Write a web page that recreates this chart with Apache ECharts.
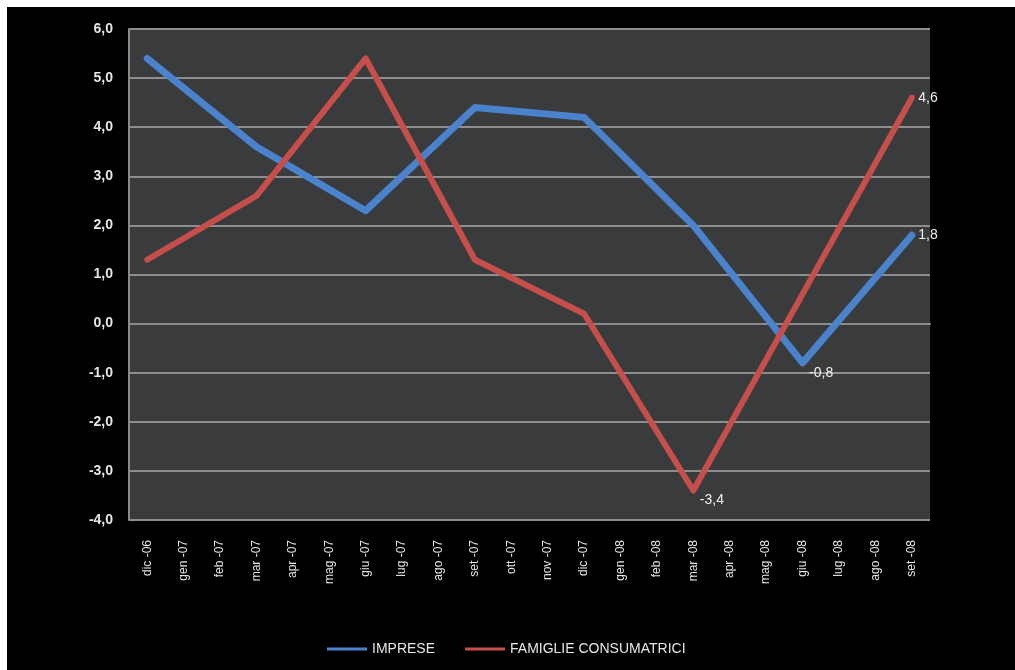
<!DOCTYPE html>
<html>
<head>
<meta charset="utf-8">
<script src="https://cdn.jsdelivr.net/npm/echarts@6/dist/echarts.min.js"></script>
<style>
    html, body { margin: 0; padding: 0; background: #fff; }
    .chart-box {
        position: absolute;
        left: 7px;
        top: 7px;
        width: 1008px;
        height: 663px;
        background: #000;
    }
</style>
</head>
<body>
<div class="chart-box" id="main"></div>
<script>
// categorie (mesi)
const months = [
    'dic -06', 'gen -07', 'feb -07', 'mar -07', 'apr -07', 'mag -07', 'giu -07',
    'lug -07', 'ago -07', 'set -07', 'ott -07', 'nov -07', 'dic -07', 'gen -08',
    'feb -08', 'mar -08', 'apr -08', 'mag -08', 'giu -08', 'lug -08', 'ago -08', 'set -08'
];

// dati trimestrali, mesi intermedi vuoti
const imprese = [
    5.4, null, null, 3.6, null, null, 2.3, null, null, 4.4, null, null,
    4.2, null, null, 2.0, null, null, -0.8, null, null, 1.8
];
const famiglie = [
    1.3, null, null, 2.6, null, null, 5.4, null, null, 1.3, null, null,
    0.2, null, null, -3.4, null, null, 0.6, null, null, 4.6
];

// punti con etichetta
const impreseLabelIdx = [18, 21];
const famiglieLabelIdx = [15, 21];

const yTicks = { min: -4, max: 6, step: 1 };

const fmt = v => v.toFixed(1).replace('.', ',');

const buildData = (values, labelIdx, minIdx) => values.map((v, i) => {
    if (v === null || labelIdx.indexOf(i) < 0) return v;
    return {
        value: v,
        label: {
            show: true,
            position: 'right',
            distance: 6,
            offset: i === minIdx ? [0, 10] : [0, 0],
            formatter: p => fmt(p.value),
            color: '#f0f0f0',
            fontSize: 14,
            fontFamily: 'Liberation Sans Narrow, Liberation Sans, sans-serif'
        }
    };
});

const chart = echarts.init(document.getElementById('main'));

const option = {
    backgroundColor: '#000',
    animation: false,
    grid: {
        left: 122,
        right: 85,
        top: 22,
        bottom: 150,
        show: true,
        backgroundColor: '#3a3b3d',
        borderWidth: 0
    },
    legend: {
        left: 315,
        bottom: 9,
        icon: 'rect',
        itemWidth: 40,
        itemHeight: 3,
        itemGap: 30,
        textStyle: {
            color: '#e6e6e6',
            fontSize: 14,
            fontFamily: 'Liberation Sans Narrow, Liberation Sans, sans-serif'
        },
        data: ['IMPRESE', 'FAMIGLIE CONSUMATRICI']
    },
    xAxis: {
        type: 'category',
        data: months,
        boundaryGap: true,
        axisLine: { lineStyle: { color: '#8a8a8a', width: 2 } },
        axisTick: { show: false },
        axisLabel: {
            rotate: 90,
            margin: 20,
            interval: 0,
            color: '#e6e6e6',
            fontSize: 12,
            fontFamily: 'Liberation Sans Narrow, Liberation Sans, sans-serif'
        }
    },
    yAxis: {
        type: 'value',
        min: yTicks.min,
        max: yTicks.max,
        interval: yTicks.step,
        axisLine: { show: true, lineStyle: { color: '#8a8a8a', width: 2 } },
        axisTick: { show: false },
        splitLine: { lineStyle: { color: '#8e8e8e', width: 2 } },
        axisLabel: {
            margin: 16,
            color: '#e6e6e6',
            fontSize: 14,
            fontWeight: 'bold',
            fontFamily: 'Liberation Sans, sans-serif',
            formatter: v => fmt(v)
        }
    },
    series: [
        {
            name: 'IMPRESE',
            type: 'line',
            data: buildData(imprese, impreseLabelIdx, 18),
            connectNulls: true,
            showSymbol: true,
            symbol: 'circle',
            symbolSize: 1,
            itemStyle: { color: '#4a82cc' },
            lineStyle: { color: '#4a82cc', width: 7, cap: 'round', join: 'round' }
        },
        {
            name: 'FAMIGLIE CONSUMATRICI',
            type: 'line',
            data: buildData(famiglie, famiglieLabelIdx, 15),
            connectNulls: true,
            showSymbol: true,
            symbol: 'circle',
            symbolSize: 1,
            itemStyle: { color: '#c64f4c' },
            lineStyle: { color: '#c64f4c', width: 6, cap: 'round', join: 'round' }
        }
    ]
};

chart.setOption(option);

window.addEventListener('resize', () => {
    chart.resize();
});
</script>
</body>
</html>
